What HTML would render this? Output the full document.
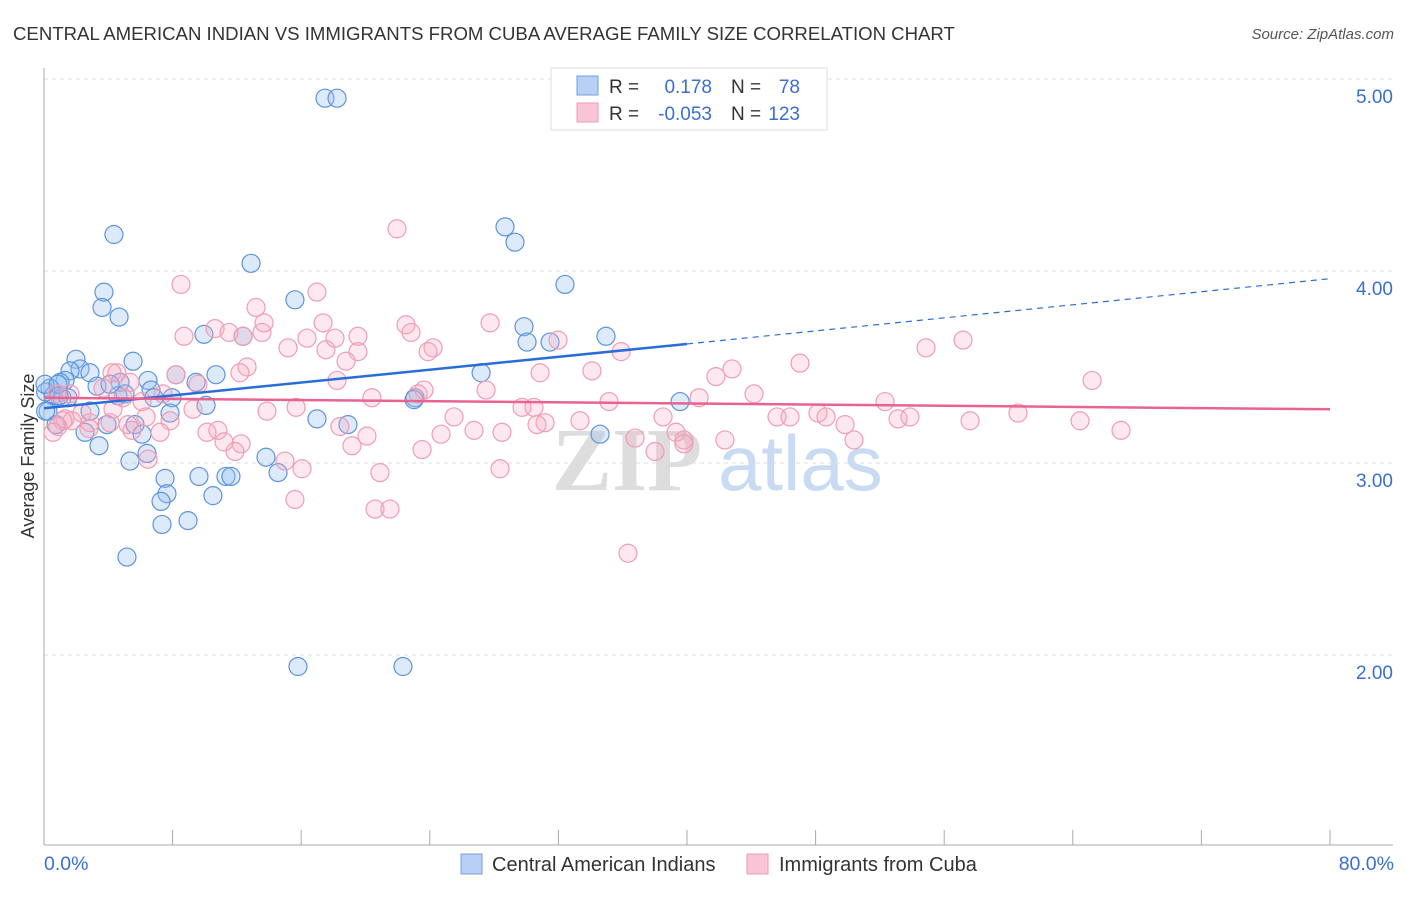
<!DOCTYPE html>
<html><head><meta charset="utf-8"><style>
body{margin:0;background:#fff;font-family:"Liberation Sans",sans-serif}
</style></head><body>
<svg id="c" width="1406" height="892" xmlns="http://www.w3.org/2000/svg" font-family="Liberation Sans, sans-serif">
<text x="13" y="40" font-size="18.6" fill="#333">CENTRAL AMERICAN INDIAN VS IMMIGRANTS FROM CUBA AVERAGE FAMILY SIZE CORRELATION CHART</text>
<text x="1394" y="39" font-size="15" fill="#555" text-anchor="end" font-style="italic">Source: ZipAtlas.com</text>
<g font-size="90" font-weight="bold">
<text x="552" y="490" fill="#ddd" font-family="Liberation Serif, serif">ZIP</text>
<text x="718" y="490" fill="#c9dbf2" font-weight="normal" font-size="78">atlas</text>
</g>
<g id="grid"></g><g id="axes"></g><g id="pts"></g><g id="trend"></g>
<text transform="translate(34,456) rotate(-90)" font-size="18" fill="#333" text-anchor="middle">Average Family Size</text>
<text x="44" y="870" font-size="19.5" fill="#3a6fd0">0.0%</text>
<text x="1394" y="870" font-size="19.5" fill="#3a6fd0" text-anchor="end">80.0%</text>
<g>
<rect x="551" y="68" width="276" height="62" fill="#fff" stroke="#ddd"/>
<rect x="577" y="76" width="21" height="19" fill="#b7d0f3" stroke="#6f9fe0"/>
<rect x="577" y="103" width="21" height="19" fill="#f9c5d4" stroke="#ee9ab3"/>
<text x="609" y="93" font-size="19" fill="#333">R =</text>
<text x="712" y="93" font-size="19" fill="#3a6fd0" text-anchor="end">0.178</text>
<text x="731" y="93" font-size="19" fill="#333">N =</text>
<text x="800" y="93" font-size="19" fill="#3a6fd0" text-anchor="end">78</text>
<text x="609" y="120" font-size="19" fill="#333">R =</text>
<text x="712" y="120" font-size="19" fill="#3a6fd0" text-anchor="end">-0.053</text>
<text x="731" y="120" font-size="19" fill="#333">N =</text>
<text x="800" y="120" font-size="19" fill="#3a6fd0" text-anchor="end">123</text>
</g>
<g>
<rect x="461" y="854" width="21" height="20" fill="#b7d0f3" stroke="#6f9fe0"/>
<text x="492" y="871" font-size="20" fill="#333">Central American Indians</text>
<rect x="747" y="854" width="21" height="20" fill="#f9c5d4" stroke="#ee9ab3"/>
<text x="779" y="871" font-size="20" fill="#333">Immigrants from Cuba</text>
</g>
</svg>
<script>
const yTicks=[2,3,4,5];
const yTickLabels=["2.00","3.00","4.00","5.00"];
const xTicks=[0,8,16,24,32,40,48,56,64,72,80];
const blueX=[17.48,18.23,4.35,28.68,29.30,12.88,32.41,3.73,15.61,3.61,4.67,29.86,34.96,12.38,9.95,30.05,31.48,1.99,5.54,2.24,1.62,2.86,27.19,10.70,8.21,1.31,1.00,0.37,4.73,6.47,3.30,9.46,6.66,0.56,1.12,4.60,7.96,6.84,23.08,23.02,1.49,39.57,10.08,2.86,7.84,0.25,16.98,18.91,5.66,3.92,2.55,6.10,34.59,3.42,6.41,13.81,5.35,14.56,7.53,9.64,11.32,11.63,7.65,7.28,10.51,7.34,8.96,5.16,15.80,22.33,0.75,0.1,0.1,0.93,4.11,0.06,5.04,0.87];
const blueY=[4.90,4.90,4.19,4.23,4.15,4.04,3.93,3.89,3.85,3.81,3.76,3.71,3.66,3.66,3.67,3.63,3.63,3.54,3.53,3.49,3.48,3.47,3.47,3.46,3.46,3.43,3.42,3.39,3.42,3.43,3.40,3.42,3.38,3.35,3.34,3.35,3.34,3.34,3.34,3.33,3.34,3.32,3.30,3.27,3.26,3.27,3.23,3.20,3.20,3.20,3.16,3.15,3.15,3.09,3.05,3.03,3.01,2.95,2.92,2.93,2.93,2.93,2.84,2.80,2.83,2.68,2.70,2.51,1.94,1.94,3.20,3.37,3.27,3.35,3.41,3.41,3.36,3.41];
const pinkX=[21.96,8.52,16.98,13.19,17.36,22.52,27.75,10.64,8.71,11.51,13.56,13.69,12.38,22.83,31.98,57.17,54.87,15.18,16.36,18.10,19.53,24.20,23.89,17.54,19.53,35.90,18.79,47.03,12.63,12.19,4.54,30.86,34.09,42.80,41.80,65.20,18.23,27.50,5.35,3.67,9.58,8.21,23.27,23.64,20.40,44.17,40.75,35.15,52.32,4.91,1.62,0.81,6.10,13.87,15.68,6.35,9.27,25.51,29.74,30.48,33.34,31.17,38.51,45.60,46.41,48.15,48.65,49.83,53.13,53.87,57.61,60.59,64.45,67.00,2.36,1.31,2.86,4.11,5.23,7.84,2.80,0.87,0.56,7.22,5.47,10.14,10.82,18.41,20.09,24.70,26.75,28.49,30.67,36.77,39.32,39.81,42.36,50.39,11.20,12.26,19.16,23.52,11.88,6.47,14.99,16.05,20.90,28.37,38.01,39.81,15.61,20.59,21.52,36.33,4.23,7.40,4.29,1.74,1.18];
const pinkY=[4.22,3.93,3.89,3.81,3.73,3.72,3.73,3.70,3.66,3.68,3.68,3.73,3.66,3.68,3.64,3.64,3.60,3.60,3.65,3.65,3.66,3.60,3.58,3.59,3.58,3.58,3.53,3.52,3.50,3.47,3.47,3.47,3.48,3.49,3.45,3.43,3.43,3.38,3.42,3.39,3.41,3.46,3.36,3.38,3.34,3.36,3.34,3.32,3.32,3.34,3.36,3.36,3.32,3.27,3.29,3.24,3.28,3.24,3.29,3.29,3.22,3.21,3.24,3.24,3.24,3.26,3.24,3.20,3.23,3.24,3.22,3.26,3.22,3.17,3.26,3.23,3.21,3.21,3.20,3.22,3.18,3.19,3.16,3.16,3.17,3.16,3.17,3.19,3.14,3.15,3.17,3.16,3.20,3.13,3.16,3.12,3.12,3.12,3.11,3.10,3.09,3.07,3.06,3.02,3.01,2.97,2.95,2.97,3.06,3.10,2.81,2.76,2.76,2.53,3.47,3.36,3.28,3.22,3.22];
const blueTrend=[3.285,3.62,3.96];
const pinkTrend=[3.34,3.28];
const NS="http://www.w3.org/2000/svg";
const X=v=>44+v/80*1286, Y=v=>79+(5-v)*192;
function mk(t,a,p){const e=document.createElementNS(NS,t);for(const k in a)e.setAttribute(k,a[k]);document.getElementById(p).appendChild(e);return e;}
yTicks.forEach((t,i)=>{
 const g=mk('line',{x1:44,x2:1393,y1:Y(t),y2:Y(t),stroke:'#ddd','stroke-dasharray':'4,4'},'grid');
 
 
 const tx=mk('text',{x:1393,y:Y(t)+24,'font-size':19,fill:'#3a6fd0','text-anchor':'end'},'axes');
 tx.textContent=yTickLabels[i];
 
 
});
const ax=mk('line',{x1:44,x2:44,y1:68,y2:845,stroke:'#aaa'},'axes');


const bx=mk('line',{x1:44,x2:1393,y1:845,y2:845,stroke:'#aaa'},'axes');


xTicks.forEach(t=>{
 const l=mk('line',{x1:X(t),x2:X(t),y1:830,y2:845,stroke:'#aaa'},'axes');
 
 
});
blueX.forEach((v,i)=>{
 const c=mk('circle',{cx:X(v),cy:Y(blueY[i]),r:9,fill:'rgba(150,190,240,0.33)',stroke:'#5f93dc','stroke-width':1.2},'pts');
 
 
});
pinkX.forEach((v,i)=>{
 const c=mk('circle',{cx:X(v),cy:Y(pinkY[i]),r:9,fill:'rgba(244,170,192,0.27)',stroke:'#ef9db6','stroke-width':1.2},'pts');
 
 
});
const b1=mk('line',{x1:X(0),y1:Y(blueTrend[0]),x2:X(40),y2:Y(blueTrend[1]),stroke:'#2a6dd6','stroke-width':2.5},'trend');


const b2=mk('line',{x1:X(40),y1:Y(blueTrend[1]),x2:X(80),y2:Y(blueTrend[2]),stroke:'#2a6dd6','stroke-width':1.2,'stroke-dasharray':'6,5'},'trend');


const p1=mk('line',{x1:X(0),y1:Y(pinkTrend[0]),x2:X(80),y2:Y(pinkTrend[1]),stroke:'#e8638f','stroke-width':2.5},'trend');


</script>
</body></html>
